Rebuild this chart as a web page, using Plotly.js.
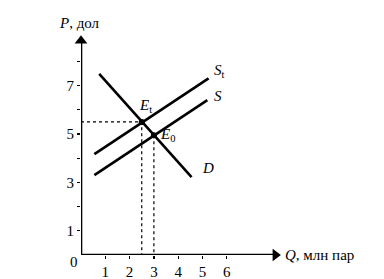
<!DOCTYPE html>
<html><head><meta charset="utf-8">
<script src="https://cdn.plot.ly/plotly-3.0.1.min.js"></script>
<style>body{margin:0;background:#fff}#c{width:384px;height:279px}</style>
</head><body><div id="c"></div>
<script>
// Data
const demandQ = [0.75, 4.55];
const demandP = [7.48, 3.22];
const supplyQ = [0.55, 5.2];
const supplyP = [3.3, 6.4];
const supplyTQ = [0.55, 5.25];
const supplyTP = [4.17, 7.3];
const eqT = {q: 2.5, p: 5.5};
const eq0 = {q: 3.0, p: 4.95};
const xTicks = [1, 2, 3, 4, 5, 6];
const xTickLabels = ['1', '2', '3', '4', '5', '6'];
const yTicks = [1, 3, 5, 7];
const yTickLabels = ['1', '3', '5', '7'];
const yMinorTicks = [2, 4, 6, 8];
const xAxisEnd = 8.0;
const yAxisEnd = 8.85;

const font = {family: 'Liberation Serif', color: '#000'};
const solid = {color: '#000', width: 2.6};
const dot = {color: '#000', width: 1.2, dash: 'dot'};

const traces = [
  {x: [0, xAxisEnd], y: [0, 0], mode: 'lines', line: solid, cliponaxis: false},
  {x: [0, 0], y: [0, yAxisEnd], mode: 'lines', line: solid, cliponaxis: false},
  {x: [xAxisEnd], y: [0], mode: 'markers', cliponaxis: false,
   marker: {symbol: 'triangle-right', size: 11, color: '#000'}},
  {x: [0], y: [yAxisEnd], mode: 'markers', cliponaxis: false,
   marker: {symbol: 'triangle-up', size: 11, color: '#000'}},
  {x: demandQ, y: demandP, mode: 'lines', line: solid},
  {x: supplyQ, y: supplyP, mode: 'lines', line: solid},
  {x: supplyTQ, y: supplyTP, mode: 'lines', line: solid},
  {x: [0, eqT.q, eqT.q], y: [eqT.p, eqT.p, 0], mode: 'lines', line: dot},
  {x: [eq0.q, eq0.q], y: [eq0.p, 0], mode: 'lines', line: dot},
  {x: [eqT.q, eq0.q], y: [eqT.p, eq0.p], mode: 'markers', marker: {color: '#000', size: 6}}
];

const ann = (x, y, text, opts) => Object.assign({x, y, xref: 'x', yref: 'y', text, showarrow: false,
  font: Object.assign({}, font, {size: 15})}, opts || {});

const layout = {
  width: 384, height: 279,
  margin: {l: 81, r: 3, t: 10, b: 24},
  paper_bgcolor: '#fff', plot_bgcolor: '#fff',
  showlegend: false,
  xaxis: {range: [0, 300 / 24.3], showgrid: false, zeroline: false, showline: false,
    tickvals: xTicks, ticktext: xTickLabels, ticks: 'outside', ticklen: 3, tickwidth: 1.2,
    tickcolor: '#000', tickfont: Object.assign({}, font, {size: 15})},
  yaxis: {range: [0, 245 / 24.2], showgrid: false, zeroline: false, showline: false,
    tickvals: yTicks, ticktext: yTickLabels, ticks: 'outside', ticklen: 3, tickwidth: 1.2,
    tickcolor: '#000', tickfont: Object.assign({}, font, {size: 15}),
    minor: {tickmode: 'array', tickvals: yMinorTicks, ticks: 'outside', ticklen: 3,
      tickwidth: 1.2, tickcolor: '#000', showgrid: false}},
  annotations: [
    ann(0, 0, '0', {xanchor: 'center', yanchor: 'middle', xshift: -7, yshift: -7}),
    ann(8.3, 0.02, '<i>Q</i>, млн пар', {xanchor: 'left'}),
    ann(0, 9.6, '<i>P</i>, дол', {xanchor: 'center', xshift: -2}),
    ann(2.65, 6.15, '<i>E</i><sub>t</sub>', {xanchor: 'center'}),
    ann(3.55, 4.95, '<i>E</i><sub>0</sub>', {xanchor: 'center'}),
    ann(5.4, 7.6, '<i>S</i><sub>t</sub>', {xanchor: 'left'}),
    ann(5.4, 6.55, '<i>S</i>', {xanchor: 'left'}),
    ann(4.9, 3.6, '<i>D</i>', {xanchor: 'left'})
  ]
};
Plotly.newPlot('c', traces, layout, {staticPlot: true, displayModeBar: false});
</script></body></html>
